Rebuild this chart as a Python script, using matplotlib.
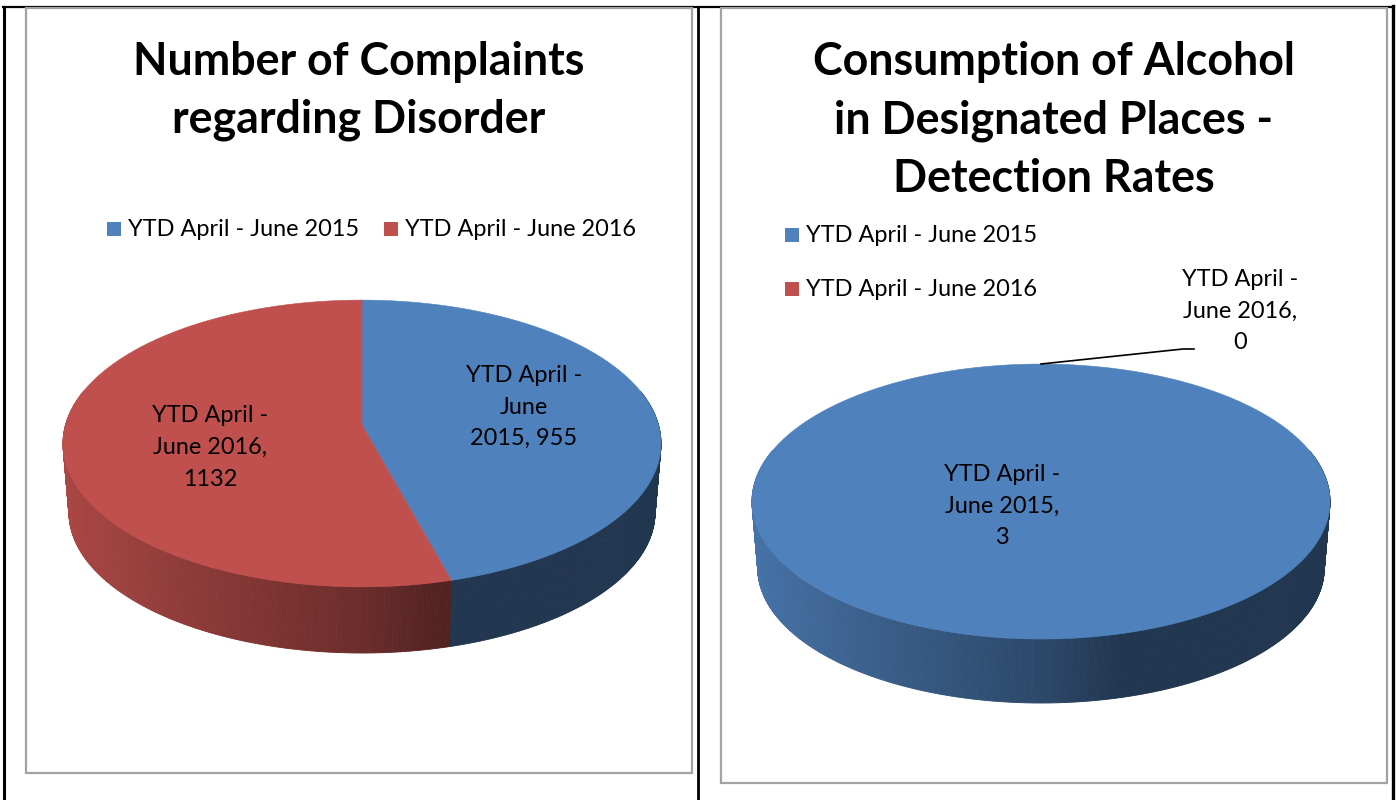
import numpy as np
import matplotlib
matplotlib.use("Agg")
import matplotlib.pyplot as plt
from matplotlib.collections import PolyCollection
from matplotlib.patches import Rectangle

plt.rcParams['font.family'] = ['Lato', 'DejaVu Sans']

categories = ['YTD April - June 2015', 'YTD April - June 2016']
complaints = [955, 1132]
alcohol = [3, 0]
colors = ['#4F81BD', '#C0504D']

title_left = 'Number of Complaints\nregarding Disorder'
title_right = 'Consumption of Alcohol\nin Designated Places -\nDetection Rates'
labels_left = ['YTD April -\nJune\n2015, 955', 'YTD April -\nJune 2016,\n1132']
labels_right = ['YTD April -\nJune 2015,\n3', 'YTD April -\nJune 2016,\n0']

K = 0.129  # perspective of the tilted disc


def rim(theta, cx, cy, a, b):
    # theta runs clockwise from 12 o'clock
    u, v = np.sin(theta), -np.cos(theta)
    w = 1 / (1 - K * v)
    return cx + b * u * w, cy + a * v * w


def shade(col, u):
    # side wall goes darker left to right, flat after a bit past the middle
    f = np.interp(u, [-1, 0, 0.25], [0.9, 0.56, 0.42])
    rgb = np.array(matplotlib.colors.to_rgb(col))
    return tuple(rgb * f)


def pie3d(ax, values, cx, cy, a, b, front, scale=0.98):
    total = sum(values)
    cy_bot = front - a / (1 - K) * scale
    start = 0
    polys, cols = [], []
    tops = []
    for val, col in zip(values, colors):
        end = start + val / total * 2 * np.pi
        if val > 0:
            th = np.linspace(start, end, max(int((end - start) * 120), 2))
            x, y = rim(th, cx, cy, a, b)
            tops.append((np.r_[cx, x], np.r_[cy, y], col))
            xb = cx + (x - cx) * scale
            yb = cy_bot + (y - cy) * scale
            for i in range(len(th) - 1):
                if -np.cos(th[i]) < -0.25:  # hidden behind the top
                    continue
                polys.append([(x[i], y[i]), (x[i + 1], y[i + 1]), (xb[i + 1], yb[i + 1]), (xb[i], yb[i])])
                cols.append((-np.cos(th[i]), shade(col, np.sin(th[i]))))
        start = end
    # back of the wall first
    order = np.argsort([c[0] for c in cols])
    pc = PolyCollection([polys[i] for i in order], facecolors=[cols[i][1] for i in order],
                        edgecolors='face', linewidths=0.6, zorder=2)
    ax.add_collection(pc)
    for x, y, col in tops:
        ax.fill(x, y, color=col, lw=0.4, zorder=3)


def legend_item(ax, x, y, text, col):
    ax.add_patch(Rectangle((x, y - 7), 14, 14, fc=col, ec='none', zorder=4))
    ax.text(x + 21, y + 1, text, fontsize=16.9, va='center', ha='left', color='black', zorder=5)


fig = plt.figure(figsize=(13.96, 8), dpi=100)
ax = fig.add_axes([0, 0, 1, 1])
ax.set_xlim(0, 1396)
ax.set_ylim(800, 0)
ax.axis('off')

# table lines behind the charts
ax.plot([4, 4], [800, 7], color='black', lw=2.2, zorder=1)
ax.plot([3, 1394], [6.5, 6.5], color='black', lw=1.6, zorder=1)
ax.plot([697.5, 697.5], [7, 800], color='black', lw=2.0, zorder=1)
ax.plot([1393, 1393], [6, 800], color='black', lw=2.4, zorder=1)

# chart frames
for x0, x1, y0, y1 in [(25.5, 692, 8, 773), (720.5, 1387, 8, 783)]:
    ax.add_patch(Rectangle((x0, y0), x1 - x0, y1 - y0, fc='white', ec='#a3a3a3', lw=1.6, zorder=1.5))

ax.text(359, 91, title_left, fontsize=32.2, fontweight='bold', ha='center', va='center',
        linespacing=1.47, color='black', zorder=5)
ax.text(1053.5, 120.5, title_right, fontsize=32.2, fontweight='bold', ha='center', va='center',
        linespacing=1.47, color='black', zorder=5)

legend_item(ax, 107, 229, categories[0], colors[0])
legend_item(ax, 384, 229, categories[1], colors[1])
legend_item(ax, 785, 235, categories[0], colors[0])
legend_item(ax, 785, 289, categories[1], colors[1])

pie3d(ax, complaints, 362, 425, 141, 296.5, 653)
pie3d(ax, alcohol, 1041, 483.8, 135.2, 286.6, 703)

lab = dict(fontsize=16.9, ha='center', va='center', linespacing=1.62, color='black', zorder=6)
ax.text(524, 407, labels_left[0], **lab)
ax.text(210, 447.5, labels_left[1], **lab)
ax.text(1002, 506, labels_right[0], **lab)
ax.text(1240, 311, labels_right[1], **lab)

# leader for the zero slice
ax.plot([1041, 1183, 1194], [364, 349, 349], color='black', lw=1.2, zorder=6)

fig.savefig('out.png', dpi=100)
